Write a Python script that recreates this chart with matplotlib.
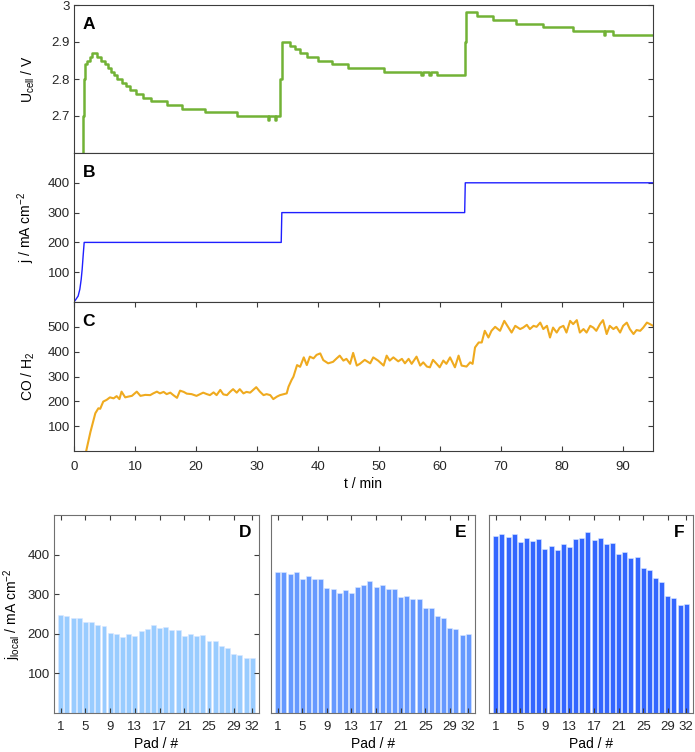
import numpy as np
import matplotlib
matplotlib.use('Agg')
import matplotlib.pyplot as plt

plt.rcParams.update({'font.family': ['Liberation Sans', 'DejaVu Sans'],
                     'font.size': 9.5,
                     'mathtext.default': 'regular',
                     'axes.edgecolor': '#3c3c3c',
                     'axes.linewidth': 0.8,
                     'xtick.color': '#3c3c3c',
                     'ytick.color': '#3c3c3c',
                     'xtick.labelcolor': '#262626',
                     'ytick.labelcolor': '#262626',
                     'xtick.direction': 'in',
                     'ytick.direction': 'in'})

# ---- panel A: cell voltage (staircase, 0.01 V resolution) ----
u_t = [1.30, 1.45, 1.60, 1.80, 2.20, 2.60, 3.00, 3.70, 4.50, 5.10, 5.60, 6.00, 6.50,
       7.10, 7.80, 8.50, 9.20, 10.2, 11.4, 12.7, 15.2, 17.7, 21.5, 26.7, 31.8, 32.0,
       33.0, 33.2, 33.8, 34.1, 35.4, 36.3, 37.1, 38.2, 40.1, 42.3, 45.0, 50.8, 57.0,
       57.2, 58.3, 58.5, 59.5, 64.1, 64.3, 66.1, 68.8, 72.6, 77.0, 81.9, 87.0, 87.2,
       88.5, 95.0]
u_v = [2.55, 2.70, 2.80, 2.84, 2.85, 2.86, 2.87, 2.86, 2.85, 2.84, 2.83, 2.82, 2.81,
       2.80, 2.79, 2.78, 2.77, 2.76, 2.75, 2.74, 2.73, 2.72, 2.71, 2.70, 2.69, 2.70,
       2.69, 2.70, 2.80, 2.90, 2.89, 2.88, 2.87, 2.86, 2.85, 2.84, 2.83, 2.82, 2.81,
       2.82, 2.81, 2.82, 2.81, 2.90, 2.98, 2.97, 2.96, 2.95, 2.94, 2.93, 2.92, 2.93,
       2.92, 2.92]

# ---- panel B: current density ----
j_t = [0.0, 0.25, 0.68, 0.96, 1.18, 1.34, 1.50, 1.67, 34.0, 34.1, 64.1, 64.2, 95.0]
j_v = [0, 7, 20, 43, 76, 110, 155, 200, 200, 300, 300, 400, 400]

# ---- panel C: CO / H2 ----
c_t = [2.0, 2.7, 3.5, 4.0, 4.3, 4.8, 5.36, 5.9, 6.5, 7.0, 7.45, 7.8, 8.4, 8.9, 9.5,
       10.3, 10.9, 11.7, 12.5, 13.0, 13.6, 14.1, 14.7, 15.2, 15.8, 16.3, 16.9, 17.4,
       18.0, 18.5, 19.3, 20.1, 20.7, 21.2, 21.8, 22.3, 22.9, 23.4, 24.0, 24.5, 25.1,
       25.6, 26.1, 26.7, 27.2, 27.8, 28.3, 28.9, 29.4, 29.9, 30.5, 31.1, 31.6, 32.2,
       32.7, 33.3, 33.8, 34.4, 34.9, 35.2, 35.7, 36.0, 36.6, 37.1, 37.7, 38.2, 38.7,
       39.3, 39.8, 40.4, 40.9, 41.7, 42.5, 43.1, 43.6, 44.2, 44.7, 45.3, 45.8, 46.4,
       46.9, 47.7, 48.6, 49.1, 49.9, 50.8, 51.3, 51.8, 52.4, 53.2, 53.8, 54.3, 54.9,
       55.4, 56.2, 56.8, 57.3, 57.9, 58.4, 58.9, 59.5, 60.0, 60.6, 61.1, 61.7, 62.5,
       63.1, 63.6, 64.4, 65.0, 65.4, 65.8, 66.4, 66.9, 67.4, 68.0, 68.5, 69.1, 69.9,
       70.6, 71.3, 71.8, 72.4, 73.2, 73.7, 74.3, 74.8, 75.4, 75.9, 76.5, 77.0, 77.6,
       78.1, 78.6, 79.2, 79.7, 80.3, 80.8, 81.4, 81.9, 82.5, 83.0, 83.6, 84.1, 84.7,
       85.2, 85.7, 86.3, 86.8, 87.4, 87.9, 88.5, 89.0, 89.6, 90.1, 90.7, 91.2, 91.8,
       92.3, 92.9, 93.4, 94.0, 94.5, 95.0]
c_v = [0, 77, 152, 172, 170, 199, 206, 216, 212, 221, 209, 239, 216, 219, 222,
       239, 222, 226, 225, 232, 239, 232, 238, 229, 235, 225, 214, 243,
       238, 231, 229, 222, 229, 235, 229, 225, 236, 225, 246, 228, 225,
       238, 249, 235, 249, 232, 238, 235, 246, 257, 239, 225, 229, 225,
       209, 219, 225, 229, 232, 259, 286, 299, 346, 339, 377, 346, 380,
       373, 387, 393, 366, 353, 359, 373, 384, 364, 371, 351, 395, 344,
       351, 367, 353, 377, 364, 344, 384, 364, 377, 361, 371, 353, 371,
       351, 380, 344, 357, 340, 337, 367, 351, 337, 364, 351, 377, 337,
       384, 344, 340, 357, 351, 417, 437, 437, 484, 457, 484, 500, 484,
       524, 497, 477, 504, 491, 497, 508, 491, 504, 500, 517, 491, 504,
       457, 497, 477, 497, 504, 477, 524, 511, 527, 477, 491, 477, 504,
       497, 484, 511, 527, 471, 504, 491, 500, 477, 504, 517, 491, 471,
       487, 484, 497, 517, 511, 504]

# ---- panels D-F: local current density per pad ----
pads = np.arange(1, 33)
pad_ticks = [1, 5, 9, 13, 17, 21, 25, 29, 32]
jloc_200 = [247, 246, 239, 239, 230, 230, 222, 219, 203, 200, 192, 199, 195, 208, 213, 221,
            214, 217, 209, 209, 195, 199, 194, 197, 182, 181, 169, 165, 148, 147, 139, 139]
jloc_300 = [356, 356, 351, 355, 339, 346, 338, 338, 315, 314, 303, 311, 303, 319, 324, 334,
            319, 324, 312, 314, 292, 295, 287, 288, 266, 264, 246, 241, 215, 211, 197, 199]
jloc_400 = [446, 451, 444, 452, 433, 441, 435, 439, 415, 421, 412, 426, 418, 440, 441, 457,
            438, 442, 428, 430, 402, 407, 391, 395, 366, 362, 341, 332, 295, 291, 272, 274]

W, H = 695, 752
fig = plt.figure(figsize=(W / 100, H / 100), dpi=100)


def px_axes(x0, y0, x1, y1):
    return fig.add_axes([x0 / W, 1 - y1 / H, (x1 - x0) / W, (y1 - y0) / H])


axA = px_axes(74, 5, 653, 153)
axB = px_axes(74, 153, 653, 302)
axC = px_axes(74, 302, 653, 451)

axA.plot(u_t, u_v, color='#72b236', lw=1.8, drawstyle='steps-post')
axA.set_ylim(2.6, 3.0)
axA.set_yticks([2.7, 2.8, 2.9, 3.0])
axA.set_yticklabels(['2.7', '2.8', '2.9', '3'])
axA.set_ylabel('U$_{cell}$ / V', fontsize=10)

axB.plot(j_t, j_v, color='#1f1fff', lw=1.0)
axB.set_ylim(0, 500)
axB.set_yticks([100, 200, 300, 400])
axB.set_ylabel('j / mA cm$^{-2}$', fontsize=10)

axC.plot(c_t, c_v, color='#efaa1f', lw=1.5)
axC.set_ylim(0, 600)
axC.set_yticks([100, 200, 300, 400, 500])
axC.set_ylabel('CO / H$_2$', fontsize=10)
axC.set_xticks(np.arange(0, 91, 10))
axC.set_xlabel('t / min', fontsize=10, labelpad=3)
axC.tick_params(axis='x', top=True, length=3.5, pad=7)

for ax, lab in zip([axA, axB, axC], ['A', 'B', 'C']):
    ax.set_xlim(0, 95)
    ax.tick_params(axis='y', right=True, length=3.5, pad=3)
    ax.yaxis.set_label_coords(-0.064, 0.5)
    if ax is not axC:
        ax.tick_params(axis='x', bottom=False, labelbottom=False)
    ax.text(0.015, 0.87, lab, transform=ax.transAxes, fontsize=12.5,
            fontweight='bold', ha='left', va='center')

axD = px_axes(54, 515, 259, 713)
axE = px_axes(271, 515, 475, 713)
axF = px_axes(489, 515, 693, 713)

for ax, vals, col, lab in zip([axD, axE, axF], [jloc_200, jloc_300, jloc_400],
                              ['#99ccff', '#6699ff', '#3366ff'], ['D', 'E', 'F']):
    ax.bar(pads, vals, width=0.8, color=col, edgecolor='#dbe8ff', linewidth=0.4)
    ax.set_xlim(-0.1, 33.1)
    ax.set_ylim(0, 500)
    ax.set_xticks(pad_ticks)
    ax.tick_params(axis='x', top=True, length=3.5, pad=6)
    ax.set_xlabel('Pad / #', fontsize=10, labelpad=3)
    for s in ax.spines.values():
        s.set_color('#707070')
    ax.text(0.93, 0.91, lab, transform=ax.transAxes, fontsize=12.5,
            fontweight='bold', ha='center', va='center')

axD.set_yticks([100, 200, 300, 400])
axD.tick_params(axis='y', right=True, length=3.5, pad=3)
axD.set_ylabel('j$_{local}$ / mA cm$^{-2}$', fontsize=10)
axD.yaxis.set_label_coords(-0.15, 0.5)
for ax in [axE, axF]:
    ax.tick_params(axis='y', left=False, labelleft=False)

plt.savefig('out.png', dpi=100)
